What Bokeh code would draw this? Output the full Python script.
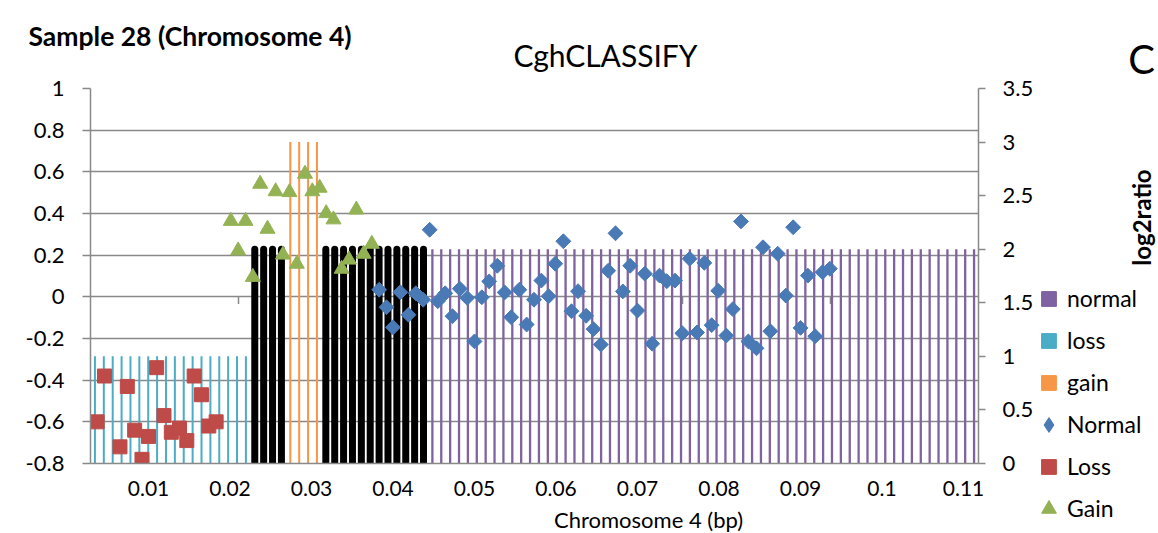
import numpy as np
from bokeh.plotting import figure
from bokeh.layouts import column, row
from bokeh.models import (Range1d, LinearAxis, FixedTicker, Label, Legend, LegendItem)
from bokeh.embed import file_html
from bokeh.resources import INLINE

# ---------------- data ----------------
# classification bars along 100 chromosome segments (category axis, right y axis)
bar_groups = ["loss", "black", "gain", "black", "normal"]
bar_counts = [18, 4, 4, 12, 62]
bar_levels = [1.0, 2.0, 3.0, 2.0, 2.0]

# log2 ratio points (left y axis) vs position
loss_x = [0.0037, 0.0046, 0.0065, 0.0074, 0.0083, 0.0092, 0.0100, 0.0110,
          0.0119, 0.0128, 0.0138, 0.0147, 0.0156, 0.0165, 0.0174, 0.0183]
loss_y = [-0.60, -0.38, -0.72, -0.43, -0.64, -0.78, -0.67, -0.34,
          -0.57, -0.65, -0.63, -0.69, -0.38, -0.47, -0.62, -0.60]

gain_x = [0.0201, 0.0210, 0.0219, 0.0228, 0.0237, 0.0246, 0.0256, 0.0265,
          0.0273, 0.0282, 0.0292, 0.0301, 0.0310, 0.0318, 0.0327, 0.0337,
          0.0346, 0.0355, 0.0364, 0.0374]
gain_y = [0.364, 0.222, 0.364, 0.095, 0.542, 0.326, 0.506, 0.202,
          0.502, 0.158, 0.590, 0.506, 0.523, 0.401, 0.371, 0.134,
          0.178, 0.418, 0.206, 0.254]

normal_x = [0.0383, 0.0392, 0.0400, 0.0409, 0.0419, 0.0428, 0.0437, 0.0445,
            0.0455, 0.0464, 0.0473, 0.0482, 0.0491, 0.0500, 0.0509, 0.0518,
            0.0528, 0.0537, 0.0545, 0.0555, 0.0564, 0.0573, 0.0582, 0.0591,
            0.0599, 0.0609, 0.0619, 0.0627, 0.0637, 0.0646, 0.0655, 0.0664,
            0.0673, 0.0682, 0.0691, 0.0700, 0.0709, 0.0718, 0.0727, 0.0736,
            0.0746, 0.0755, 0.0764, 0.0773, 0.0782, 0.0791, 0.0799, 0.0809,
            0.0817, 0.0827, 0.0836, 0.0846, 0.0854, 0.0863, 0.0872, 0.0882,
            0.0891, 0.0900, 0.0909, 0.0918, 0.0927, 0.0936]
normal_y = [0.034, -0.050, -0.146, 0.022, -0.086, 0.017, -0.014, 0.322,
            -0.021, 0.017, -0.093, 0.039, -0.005, -0.214, -0.002, 0.074,
            0.149, 0.021, -0.098, 0.034, -0.133, -0.014, 0.078, 0.003,
            0.159, 0.267, -0.069, 0.027, -0.091, -0.155, -0.229, 0.125,
            0.305, 0.026, 0.149, -0.066, 0.111, -0.225, 0.102, 0.075,
            0.078, -0.175, 0.183, -0.171, 0.163, -0.136, 0.029, -0.186,
            -0.059, 0.362, -0.214, -0.247, 0.238, -0.165, 0.207, 0.006,
            0.334, -0.149, 0.102, -0.189, 0.118, 0.135]

x_ticks = [0.01, 0.02, 0.03, 0.04, 0.05, 0.06, 0.07, 0.08, 0.09, 0.1, 0.11]
x_tick_labels = ["0.01", "0.02", "0.03", "0.04", "0.05", "0.06", "0.07",
                 "0.08", "0.09", "0.1", "0.11"]
left_ticks = [-0.8, -0.6, -0.4, -0.2, 0, 0.2, 0.4, 0.6, 0.8, 1]
left_tick_labels = ["-0.8", "-0.6", "-0.4", "-0.2", "0", "0.2", "0.4",
                    "0.6", "0.8", "1"]
right_ticks = [0, 0.5, 1, 1.5, 2, 2.5, 3, 3.5]
right_tick_labels = ["0", "0.5", "1", "1.5", "2", "2.5", "3", "3.5"]
category_axis_divisions = 6

legend_labels = ["normal", "loss", "gain", "Normal", "Loss", "Gain"]

# ---------------- styling ----------------
FONT = "Lato"
GRID = "#898989"
COLORS = {"normal": "#7F62A1", "loss": "#4BACC6", "gain": "#F79646", "black": "#000000"}
WIDTHS = {"normal": 2.3, "loss": 2.0, "gain": 2.0, "black": 7}
C_NORMAL, C_LOSS, C_GAIN = "#4A7AB5", "#BE4B48", "#93B254"


def blank_fig(w, h, xr, yr):
    f = figure(width=w, height=h, output_backend="svg", toolbar_location=None,
               x_range=Range1d(*xr), y_range=Range1d(*yr),
               x_axis_type=None, y_axis_type=None, min_border=0)
    f.outline_line_color = None
    f.background_fill_color = "white"
    f.border_fill_color = "white"
    return f


def add_label(f, text, x, y, size, bold=False, align="left", baseline="middle",
              angle=0.0):
    f.add_layout(Label(x=x, y=y, text=text, text_font=FONT, text_font_size=size,
                       text_font_style="bold" if bold else "normal",
                       text_align=align, text_baseline=baseline, angle=angle,
                       text_color="black"))


# ---------------- main chart ----------------
p = figure(width=1040, height=433, output_backend="svg", toolbar_location=None,
           x_range=Range1d(0.002883, 0.11184), y_range=Range1d(-0.8, 1.0),
           min_border_left=90, min_border_right=62, min_border_top=16,
           min_border_bottom=42)
p.outline_line_color = None
p.background_fill_color = "white"
p.border_fill_color = "white"
n_cat = sum(bar_counts)
p.extra_x_ranges = {"cat": Range1d(0, n_cat)}
p.extra_y_ranges = {"bars": Range1d(0, 3.5)}

xa = p.xaxis[0]
xa.ticker = FixedTicker(ticks=x_ticks)
xa.major_label_overrides = dict(zip(x_ticks, x_tick_labels))
xa.major_tick_out = 0
xa.major_tick_in = 0
xa.minor_tick_line_color = None
xa.axis_line_color = GRID
xa.axis_line_width = 1.5
xa.major_label_text_font = FONT
xa.major_label_text_font_size = "21px"
xa.major_label_text_color = "black"
xa.major_label_standoff = 17

ya = p.yaxis[0]
ya.ticker = FixedTicker(ticks=left_ticks)
ya.major_label_overrides = dict(zip(left_ticks, left_tick_labels))
ya.major_tick_out = 8
ya.major_tick_in = 0
ya.major_tick_line_color = GRID
ya.major_tick_line_width = 1.5
ya.minor_tick_line_color = None
ya.axis_line_color = GRID
ya.axis_line_width = 1.5
ya.major_label_text_font = FONT
ya.major_label_text_font_size = "22px"
ya.major_label_text_color = "black"
ya.major_label_standoff = 18

ra = LinearAxis(y_range_name="bars", ticker=FixedTicker(ticks=right_ticks))
ra.major_label_overrides = dict(zip(right_ticks, right_tick_labels))
ra.major_tick_out = 7
ra.major_tick_in = 0
ra.major_tick_line_color = GRID
ra.major_tick_line_width = 1.5
ra.minor_tick_line_color = None
ra.axis_line_color = GRID
ra.axis_line_width = 1.5
ra.major_label_text_font = FONT
ra.major_label_text_font_size = "22px"
ra.major_label_text_color = "black"
ra.major_label_standoff = 17
p.add_layout(ra, "right")

p.xgrid.grid_line_color = None
p.ygrid.ticker = FixedTicker(ticks=left_ticks)
p.ygrid.grid_line_color = GRID
p.ygrid.grid_line_width = 1.5

# small tick marks of the category axis crossing at 0
cat_ticks = [n_cat * k / category_axis_divisions for k in range(1, category_axis_divisions)]
p.segment(x0=cat_ticks, y0=[0] * len(cat_ticks), x1=cat_ticks, y1=[-0.034] * len(cat_ticks),
          x_range_name="cat", line_color=GRID, line_width=1.5)

# bars
start = 0
for g, n, lev in zip(bar_groups, bar_counts, bar_levels):
    xs = [start + k + 0.5 for k in range(n)]
    p.segment(x0=xs, y0=[0] * n, x1=xs, y1=[lev] * n,
              x_range_name="cat", y_range_name="bars",
              line_color=COLORS[g], line_width=WIDTHS[g],
              line_cap="round" if g == "black" else "butt")
    start += n

# points
p.scatter(normal_x, normal_y, marker="square", angle=np.pi / 4, size=10.5,
          fill_color=C_NORMAL, line_color=C_NORMAL)
p.scatter(loss_x, loss_y, marker="square", size=14,
          fill_color=C_LOSS, line_color=C_LOSS)
p.scatter(gain_x, gain_y, marker="triangle", size=15,
          fill_color=C_GAIN, line_color=C_GAIN)

# ---------------- title strip ----------------
ptop = blank_fig(1040, 72, (0, 1040), (72, 0))
add_label(ptop, "Sample 28 (Chromosome 4)", 28, 35, "26.5px", bold=True)
add_label(ptop, "CghCLASSIFY", 605, 54, "30px", align="center")

# ---------------- x axis title strip (frame aligned with the chart's frame) ----------------
pbot = blank_fig(1040, 28, (90, 978), (533, 505))
add_label(pbot, "Chromosome 4 (bp)", 648, 518.5, "22px", align="center")

# ---------------- right strip: panel letter, axis title, legend ----------------
pright = blank_fig(118, 533, (1040, 1158), (533, 0))
add_label(pright, "C", 1141, 58, "40px", align="center")
add_label(pright, "log2ratio", 1141, 217, "24px", bold=True, align="center",
          angle=np.pi / 2)

leg_styles = [("square", COLORS["normal"]), ("square", COLORS["loss"]),
              ("square", COLORS["gain"]), ("diamond", C_NORMAL),
              ("square", C_LOSS), ("triangle", C_GAIN)]
items = []
for lab, (mk, col) in zip(legend_labels, leg_styles):
    # off-canvas point: only its legend swatch is visible
    r = pright.scatter(x=[-1000], y=[-1000], marker=mk, fill_color=col, line_color=col)
    items.append(LegendItem(label=lab, renderers=[r]))

legend = Legend(items=items, location=(-10, 6.5), orientation="vertical",
                glyph_width=37, glyph_height=37, label_height=37, spacing=5,
                padding=0, margin=0, label_standoff=0,
                border_line_color=None, background_fill_alpha=0,
                label_text_font=FONT, label_text_font_size="23px",
                label_text_color="black", label_text_baseline="middle")
pright.add_layout(legend)

layout = row(column(ptop, column(p, pbot, spacing=0), spacing=0), pright, spacing=0)

open("out.html", "w").write(file_html(layout, INLINE))
